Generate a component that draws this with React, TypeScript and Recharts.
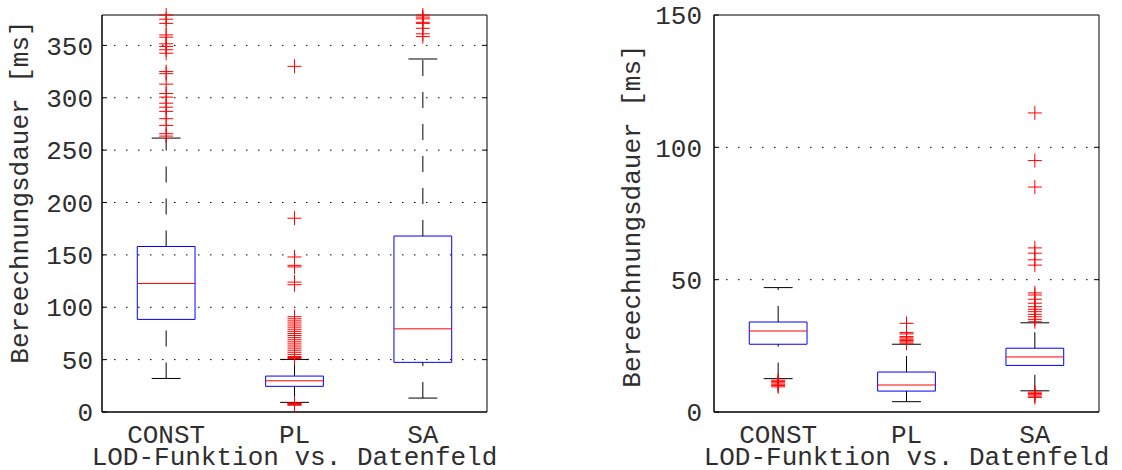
import React from "react";
import {
  CartesianGrid,
  ComposedChart,
  Label,
  ReferenceArea,
  ReferenceLine,
  Scatter,
  XAxis,
  YAxis,
} from "recharts";

const categories = ["CONST", "PL", "SA"];
const ticksLeft = [0, 50, 100, 150, 200, 250, 300, 350];
const ticksRight = [0, 50, 100, 150];

// left panel: box statistics per category (ms)
const leftLow = [32, 9.2, 13.3];
const leftQ1 = [88.4, 24.5, 47.4];
const leftMedian = [122.7, 29.8, 79.4];
const leftQ3 = [158, 34.3, 168];
const leftHigh = [261.5, 50.2, 337];

const leftConstOutliers = [
  379, 375, 371, 360, 357.8, 351.5, 349, 345.8, 342.5, 325, 323, 313, 304,
  300.6, 294.8, 291, 287, 280, 273.6, 265.7, 263.4,
];
const leftPlOutliers = [
  330, 185, 148, 140, 138.5, 124, 121.5, 91, 89, 87, 85, 83, 81, 79, 77, 75,
  73, 71, 69, 67, 65, 63, 61, 59, 57, 55, 53, 52, 51, 8.5, 8, 7.5, 7, 6.5,
];
const leftSaOutliers = [379, 377, 375.3, 372, 371, 366.3, 361, 358.4];

// right panel
const rightLow = [12.6, 3.9, 8];
const rightQ1 = [25.6, 7.9, 17.6];
const rightMedian = [30.6, 10.2, 20.8];
const rightQ3 = [34, 15.1, 24.1];
const rightHigh = [47, 25.6, 33.7];

const rightConstOutliers = [12, 11.5, 11, 10.5, 10, 9.5];
const rightPlOutliers = [33.5, 30, 29.5, 28.5, 28, 27.5, 27, 26.5, 26];
const rightSaOutliers = [
  113, 95, 85, 62, 60, 57.5, 55.5, 45, 44.2, 42.6, 41.1, 39.8, 38.8, 37.9,
  36.9, 36, 35, 34.1, 7.5, 7, 6.5, 6, 5.5,
];

const FONT = "'Liberation Mono', 'DejaVu Sans Mono', monospace";
const TEXT = "#2e2e2e";
const HALF_BOX = 0.225;
const HALF_CAP = 0.1125;
const X_MIN = 0.5;
const X_MAX = 3.5;

const Cross = (props: any) => {
  const { cx, cy } = props;
  if (cx == null || cy == null) return null;
  return (
    <g stroke="#ff0000" strokeWidth={1}>
      <line x1={cx - 7} y1={cy} x2={cx + 7} y2={cy} />
      <line x1={cx} y1={cy - 7} x2={cx} y2={cy + 7} />
    </g>
  );
};

interface PanelProps {
  low: number[];
  q1: number[];
  median: number[];
  q3: number[];
  high: number[];
  outliers: number[][];
  ticks: number[];
  yMax: number;
  axisWidth: number;
  rightMargin: number;
  labelGap: number;
  titleX: number;
  titleY: number;
}

const BoxPanel = ({
  low,
  q1,
  median,
  q3,
  high,
  outliers,
  ticks,
  yMax,
  axisWidth,
  rightMargin,
  labelGap,
  titleX,
  titleY,
}: PanelProps) => {
  const points = outliers.flatMap((list, i) => list.map((v) => ({ x: i + 1, y: v })));
  // the domain span in x units that 5px of tick length covers on the right border
  const tickLen = (5 / 385) * (X_MAX - X_MIN);

  return (
    <ComposedChart
      width={561}
      height={470}
      margin={{ top: 15, right: rightMargin, bottom: 0, left: 0 }}
    >
      <CartesianGrid
        horizontal
        vertical={false}
        horizontalValues={ticks.filter((t) => t > 0 && t < yMax)}
        stroke="#000"
        strokeDasharray="1.5 10.5"
      />
      <XAxis
        type="number"
        dataKey="x"
        domain={[X_MIN, X_MAX]}
        ticks={[1, 2, 3]}
        interval={0}
        tickFormatter={(v: number) => categories[v - 1]}
        height={58}
        axisLine={{ stroke: "#000" }}
        tickLine={false}
        tickSize={0}
        tickMargin={13}
        tick={{ fontFamily: FONT, fontSize: 26, fill: TEXT }}
      >
        <Label
          value="LOD-Funktion vs. Datenfeld"
          position="insideBottom"
          offset={5}
          style={{ fontFamily: FONT, fontSize: 26, fill: TEXT }}
        />
      </XAxis>
      <YAxis
        type="number"
        dataKey="y"
        domain={[0, yMax]}
        ticks={ticks}
        interval={0}
        width={axisWidth}
        tickSize={-5}
        tickMargin={labelGap}
        axisLine={{ stroke: "#000" }}
        tickLine={{ stroke: "#000" }}
        tick={{ fontFamily: FONT, fontSize: 26, fill: TEXT }}
        label={{
          content: () => (
            <text
              x={titleX}
              y={titleY}
              transform={`rotate(-90 ${titleX} ${titleY})`}
              textAnchor="middle"
              fontFamily={FONT}
              fontSize={26}
              fill={TEXT}
            >
              Bereechnungsdauer [ms]
            </text>
          ),
        }}
      />

      {/* axes box */}
      <ReferenceArea
        x1={X_MIN}
        x2={X_MAX}
        y1={0}
        y2={yMax}
        fill="none"
        fillOpacity={0}
        stroke="#000"
        strokeWidth={1}
      />
      {ticks
        .filter((t) => t > 0 && t < yMax)
        .map((t) => (
          <ReferenceLine
            key={`rt-${t}`}
            segment={[
              { x: X_MAX - tickLen, y: t },
              { x: X_MAX, y: t },
            ]}
            stroke="#000"
          />
        ))}

      {categories.map((c, i) => (
        <ReferenceLine
          key={`wl-${c}`}
          segment={[
            { x: i + 1, y: low[i] },
            { x: i + 1, y: q1[i] },
          ]}
          stroke="#000"
          strokeDasharray="16 16"
        />
      ))}
      {categories.map((c, i) => (
        <ReferenceLine
          key={`wh-${c}`}
          segment={[
            { x: i + 1, y: q3[i] },
            { x: i + 1, y: high[i] },
          ]}
          stroke="#000"
          strokeDasharray="16 16"
        />
      ))}
      {categories.map((c, i) => (
        <ReferenceLine
          key={`cl-${c}`}
          segment={[
            { x: i + 1 - HALF_CAP, y: low[i] },
            { x: i + 1 + HALF_CAP, y: low[i] },
          ]}
          stroke="#000"
        />
      ))}
      {categories.map((c, i) => (
        <ReferenceLine
          key={`ch-${c}`}
          segment={[
            { x: i + 1 - HALF_CAP, y: high[i] },
            { x: i + 1 + HALF_CAP, y: high[i] },
          ]}
          stroke="#000"
        />
      ))}
      {categories.map((c, i) => (
        <ReferenceArea
          key={`box-${c}`}
          x1={i + 1 - HALF_BOX}
          x2={i + 1 + HALF_BOX}
          y1={q1[i]}
          y2={q3[i]}
          fill="none"
          fillOpacity={0}
          stroke="#0000ff"
          strokeWidth={1}
        />
      ))}
      {categories.map((c, i) => (
        <ReferenceLine
          key={`med-${c}`}
          segment={[
            { x: i + 1 - HALF_BOX, y: median[i] },
            { x: i + 1 + HALF_BOX, y: median[i] },
          ]}
          stroke="#ff0000"
        />
      ))}

      <Scatter data={points} shape={Cross} isAnimationActive={false} />
    </ComposedChart>
  );
};

export default function App() {
  return (
    <div
      style={{
        position: "absolute",
        left: 0,
        top: 0,
        width: 1122,
        height: 470,
        display: "flex",
        background: "#fff",
      }}
    >
      <BoxPanel
        low={leftLow}
        q1={leftQ1}
        median={leftMedian}
        q3={leftQ3}
        high={leftHigh}
        outliers={[leftConstOutliers, leftPlOutliers, leftSaOutliers]}
        ticks={ticksLeft}
        yMax={379}
        axisWidth={102}
        rightMargin={74}
        labelGap={14}
        titleX={28}
        titleY={192}
      />
      <BoxPanel
        low={rightLow}
        q1={rightQ1}
        median={rightMedian}
        q3={rightQ3}
        high={rightHigh}
        outliers={[rightConstOutliers, rightPlOutliers, rightSaOutliers]}
        ticks={ticksRight}
        yMax={150}
        axisWidth={153}
        rightMargin={23}
        labelGap={17}
        titleX={79}
        titleY={216}
      />
    </div>
  );
}
